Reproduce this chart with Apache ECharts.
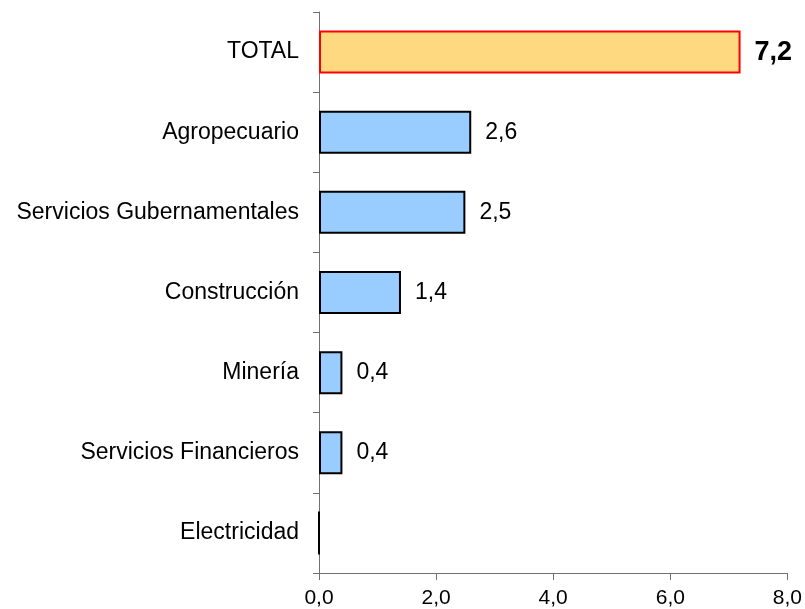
<!DOCTYPE html>
<html>
<head>
<meta charset="utf-8">
<script src="https://cdn.jsdelivr.net/npm/echarts@6/dist/echarts.min.js"></script>
<style>
  html, body { margin: 0; padding: 0; background: #fff; }
  #chart { width: 805px; height: 609px; }
</style>
</head>
<body>
<div id="chart"></div>
<script>
// sectores (de arriba hacia abajo)
const categories = ['TOTAL', 'Agropecuario', 'Servicios Gubernamentales', 'Construcción', 'Minería', 'Servicios Financieros', 'Electricidad']
const values = [7.2, 2.6, 2.5, 1.4, 0.4, 0.4, 0.0]
const xTicks = [0, 2, 4, 6, 8]

const fmt = function(v) {
  return Number(v).toFixed(1).replace('.', ',')
}

const chartDom = echarts.init(document.getElementById('chart'))

const barData = values.map(function(v, i) {
  if (i === 0) {
    return {
      value: v,
      itemStyle: { color: '#FFD97F', borderColor: '#FF0000', borderWidth: 2 },
      label: { fontWeight: 'bold', fontSize: 27 }
    }
  }
  if (v === 0) {
    return { value: v, label: { show: false } }
  }
  return v
})

const option = {
  animation: false,
  textStyle: { fontFamily: 'Liberation Sans, Arial, sans-serif' },
  grid: { left: 319, right: 16, top: 12, bottom: 34, containLabel: false },
  xAxis: {
    type: 'value',
    min: xTicks[0],
    max: xTicks[xTicks.length - 1],
    interval: 2,
    splitLine: { show: false },
    axisLine: { show: true, lineStyle: { color: '#707070', width: 1 } },
    axisTick: { show: true, length: 7, lineStyle: { color: '#707070' } },
    axisLabel: {
      color: '#000',
      fontSize: 21,
      margin: 15,
      formatter: fmt // coma decimal
    }
  },
  yAxis: {
    type: 'category',
    data: categories,
    inverse: true,
    axisLine: { show: true, lineStyle: { color: '#707070', width: 1 } },
    axisTick: { show: true, length: 6, lineStyle: { color: '#707070' } },
    axisLabel: { color: '#000', fontSize: 23, margin: 20 }
  },
  series: [
    {
      type: 'bar',
      data: barData,
      barWidth: 43,
      itemStyle: { color: '#99CCFF', borderColor: '#000', borderWidth: 2 },
      label: {
        show: true,
        position: 'right',
        distance: 14,
        color: '#000',
        fontSize: 23,
        formatter: function(p) { return fmt(p.value) }
      }
    }
  ]
}
chartDom.setOption(option)
</script>
</body>
</html>
